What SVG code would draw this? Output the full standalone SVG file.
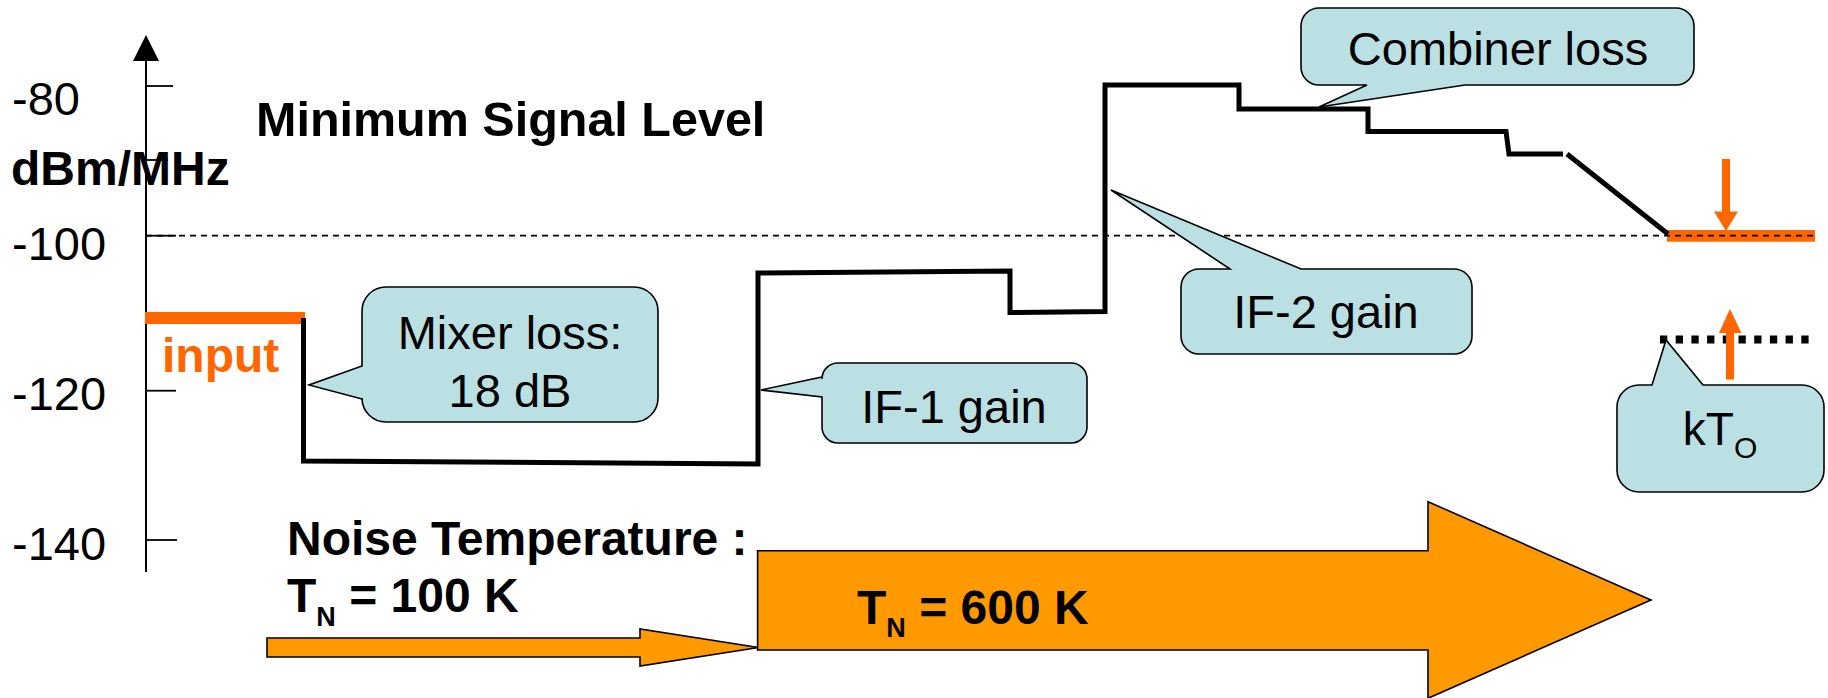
<svg xmlns="http://www.w3.org/2000/svg" width="1828" height="698" viewBox="0 0 1828 698">
<style>
.t{font-family:"Liberation Sans",Arial,Helvetica,sans-serif;font-size:47px;fill:#000}
.b{font-weight:bold;font-size:48px}
.bub{fill:#BBE0E3;stroke:#000;stroke-width:1.6;stroke-linejoin:miter}
.sig{fill:none;stroke:#000;stroke-width:5;stroke-linejoin:miter;stroke-linecap:butt}
.tick{stroke:#000;stroke-width:1.8}
.bigar{fill:#FF9900;stroke:#000;stroke-width:1.6}
.ora{fill:#FF6600}
</style>

<g id="axis">
  <line x1="146" y1="58" x2="146" y2="572" stroke="#000" stroke-width="2"/>
  <polygon points="146,35 133,61 159,61" fill="#000"/>
  <line class="tick" x1="146" y1="86" x2="173" y2="86"/>
  <line class="tick" x1="146" y1="160" x2="168" y2="160"/>
  <line class="tick" x1="146" y1="235.7" x2="176" y2="235.7"/>
  <line class="tick" x1="146" y1="390.7" x2="176" y2="390.7"/>
  <line class="tick" x1="146" y1="540" x2="177" y2="540"/>
  <text class="t" x="12" y="115">-80</text>
  <text class="t b" x="11" y="185">dBm/MHz</text>
  <text class="t" x="12" y="260">-100</text>
  <text class="t" x="12" y="410">-120</text>
  <text class="t" x="12" y="560">-140</text>
</g>

<g id="title">
  <text class="t b" x="256" y="136" font-size="48.5" style="font-size:48.5px">Minimum Signal Level</text>
</g>

<g id="input">
  <rect class="ora" x="145" y="312" width="160" height="12"/>
  <text class="t b" x="162" y="372" style="fill:#FF6600">input</text>
</g>

<g id="output-level">
  <rect class="ora" x="1667" y="230" width="148" height="11.7"/>
</g>

<g id="connectors">
  <polyline class="sig" points="303.5,318 303.5,461 758,464 758,273 1010,271 1010,312.5 1105,311.5 1105,85 1239,85 1239,109 1368,109 1368,131.5 1506,131.5 1509,154 1563,154"/>
  <line class="sig" x1="1567" y1="154" x2="1668" y2="234"/>
  <line x1="146" y1="235.7" x2="1815" y2="235.7" stroke="#000" stroke-width="1.8" stroke-dasharray="6 5"/>
  <line x1="1660" y1="339.5" x2="1810" y2="339.5" stroke="#000" stroke-width="8" stroke-dasharray="7.3 8.4"/>
  <g id="arrow-down">
    <rect class="ora" x="1722" y="159" width="8" height="54"/>
    <polygon class="ora" points="1714,211.5 1738,211.5 1726,231"/>
  </g>
  <g id="arrow-up">
    <rect class="ora" x="1726" y="331" width="8" height="48.5"/>
    <polygon class="ora" points="1719,333 1741.5,333 1730,309"/>
  </g>
</g>

<g id="mixer-loss">
  <path class="bub" d="M386,287 H634 A24,24 0 0 1 658,311 V398 A24,24 0 0 1 634,422 H386 A24,24 0 0 1 362,398 V399 L309,385 L362,366 V311 A24,24 0 0 1 386,287 Z"/>
  <text class="t" x="510" y="349" text-anchor="middle">Mixer loss:</text>
  <text class="t" x="510" y="407" text-anchor="middle">18 dB</text>
</g>

<g id="if1-gain">
  <path class="bub" d="M838,363 H1071 A16,16 0 0 1 1087,379 V427 A16,16 0 0 1 1071,443 H838 A16,16 0 0 1 822,427 V397 L761,390 L822,377 V379 A16,16 0 0 1 838,363 Z"/>
  <text class="t" x="954" y="423" text-anchor="middle">IF-1 gain</text>
</g>

<g id="if2-gain">
  <path class="bub" d="M1199,269 H1230 L1111,190 L1301,269 H1454 A18,18 0 0 1 1472,287 V336 A18,18 0 0 1 1454,354 H1199 A18,18 0 0 1 1181,336 V287 A18,18 0 0 1 1199,269 Z"/>
  <text class="t" x="1326" y="328" text-anchor="middle">IF-2 gain</text>
</g>

<g id="combiner-loss">
  <path class="bub" d="M1319,8 H1676 A18,18 0 0 1 1694,26 V67 A18,18 0 0 1 1676,85 H1465 L1319,107 L1367,85 H1319 A18,18 0 0 1 1301,67 V26 A18,18 0 0 1 1319,8 Z"/>
  <text class="t" x="1498" y="65" text-anchor="middle">Combiner loss</text>
</g>

<g id="kto">
  <path class="bub" d="M1639,385 H1652 L1666,340 L1703,385 H1802 A22,22 0 0 1 1824,407 V470 A22,22 0 0 1 1802,492 H1639 A22,22 0 0 1 1617,470 V407 A22,22 0 0 1 1639,385 Z"/>
  <text class="t" x="1720" y="445" text-anchor="middle" style="font-size:46px">kT<tspan style="font-size:30px" dy="13">O</tspan></text>
</g>

<g id="noise-100">
  <polygon class="bigar" points="267,638 640,638 640,629 758.5,647.5 640,666 640,657 267,657"/>
  <text class="t b" x="287" y="555">Noise Temperature :</text>
  <text class="t b" x="287" y="612">T<tspan style="font-size:27px" dy="14">N</tspan><tspan dy="-14"> = 100 K</tspan></text>
</g>

<g id="noise-600">
  <polygon class="bigar" points="757.6,550.7 1428,550.7 1428,501.7 1651,600 1428,698.3 1428,650 757.6,650"/>
  <text class="t b" x="857" y="624">T<tspan style="font-size:27px" dy="13">N</tspan><tspan dy="-13"> = 600 K</tspan></text>
</g>
</svg>
